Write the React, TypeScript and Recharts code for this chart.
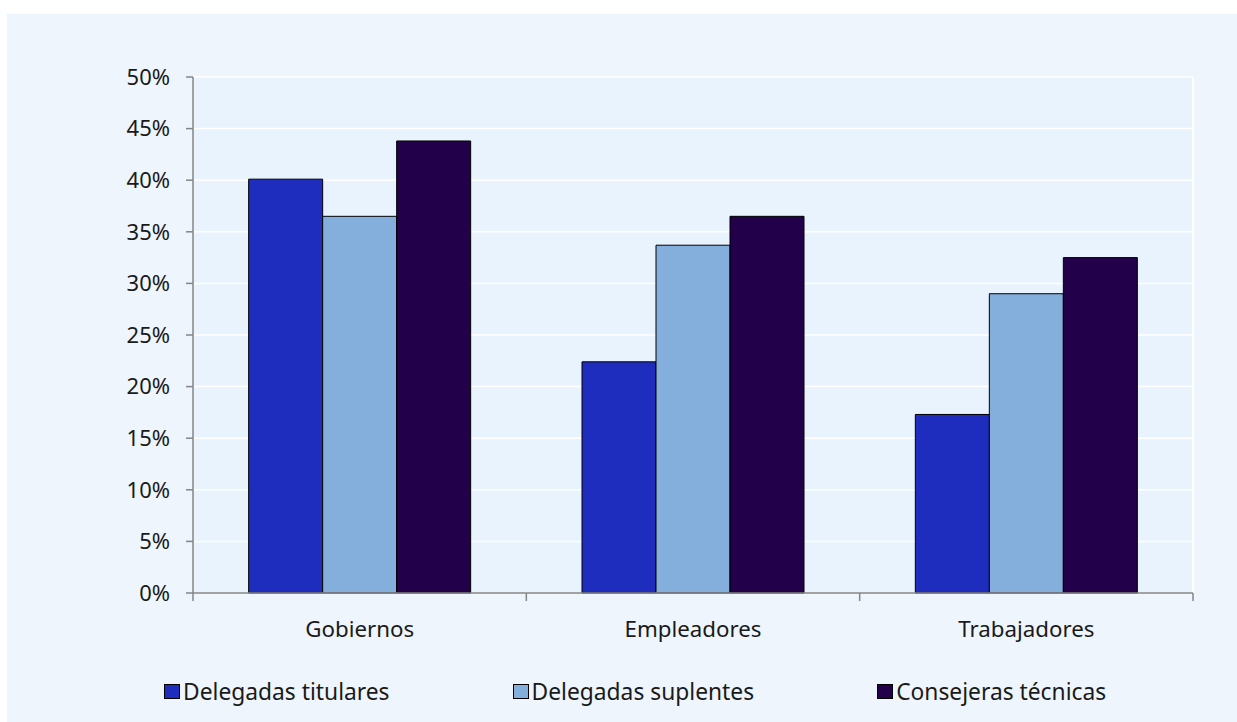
import React from "react";
import {
  BarChart,
  Bar,
  XAxis,
  YAxis,
  CartesianGrid,
  ReferenceLine,
} from "recharts";

// #region Data
const categories = ["Gobiernos", "Empleadores", "Trabajadores"];
const titulares = [40.1, 22.4, 17.3];
const suplentes = [36.5, 33.7, 29.0];
const tecnicas = [43.8, 36.5, 32.5];
const yTicks = [0, 5, 10, 15, 20, 25, 30, 35, 40, 45, 50];
const edgeTicks = [0, 1, 2, 3];

const series = [
  { key: "titulares", name: "Delegadas titulares", color: "#1F2DBE" },
  { key: "suplentes", name: "Delegadas suplentes", color: "#84AFDC" },
  { key: "tecnicas", name: "Consejeras técnicas", color: "#22004A" },
];

const data = categories.map((name, i) => ({
  name,
  edge: i,
  titulares: titulares[i],
  suplentes: suplentes[i],
  tecnicas: tecnicas[i],
}));
// #endregion

const font = "'Noto Sans', sans-serif";
const axisGray = "#858585";

// "a" = boundary ticks axis, "b" = category labels axis
export default function App() {
  return (
    <div
      style={{
        position: "absolute",
        left: 7,
        top: 14,
        width: 1230,
        height: 708,
        background: "#EEF5FC",
        fontFamily: font,
      }}
    >
      <BarChart
        width={1230}
        height={708}
        data={data}
        margin={{ top: 63, right: 44, bottom: 69, left: 106 }}
        barCategoryGap="16.7%"
        barGap={0}
      >
        <CartesianGrid
          xAxisId="b"
          vertical={false}
          fill="#E9F3FD"
          stroke="#FFFFFF"
          strokeWidth={1.5}
        />
        <XAxis
          xAxisId="a"
          dataKey="edge"
          type="number"
          domain={[0, 3]}
          ticks={edgeTicks}
          interval={0}
          tick={() => <g />}
          tickLine={{ stroke: axisGray, strokeWidth: 1.5 }}
          tickSize={8}
          height={1}
          stroke={axisGray}
          strokeWidth={1.5}
          allowDataOverflow
        />
        <XAxis
          xAxisId="b"
          dataKey="name"
          axisLine={false}
          tickLine={false}
          tickSize={0}
          tickMargin={27}
          height={59}
          tick={{ fill: "#1A1A1A", fontSize: 22.3, fontFamily: font }}
        />
        <YAxis
          domain={[0, 50]}
          ticks={yTicks}
          width={80}
          tickSize={7}
          tickMargin={16}
          stroke={axisGray}
          strokeWidth={1.5}
          tickFormatter={(v) => `${v}%`}
          tick={{ fill: "#1A1A1A", fontSize: 22, fontFamily: font }}
        />
        <ReferenceLine xAxisId="a" x={3} stroke="#FFFFFF" strokeWidth={2} />
        {series.map((s) => (
          <Bar
            key={s.key}
            xAxisId="b"
            dataKey={s.key}
            name={s.name}
            fill={s.color}
            stroke="#000000"
            strokeWidth={1}
            isAnimationActive={false}
          />
        ))}
      </BarChart>
      <div
        style={{
          position: "absolute",
          left: 157,
          top: 662,
          display: "flex",
          alignItems: "center",
          fontSize: 22.8,
          color: "#1A1A1A",
          whiteSpace: "nowrap",
        }}
      >
        {series.map((s) => (
          <div
            key={s.key}
            style={{ display: "flex", alignItems: "center", marginRight: 123 }}
          >
            <span
              style={{
                display: "inline-block",
                width: 16,
                height: 15,
                boxSizing: "border-box",
                background: s.color,
                border: "1px solid #000",
                marginRight: 3,
              }}
            />
            <span>{s.name}</span>
          </div>
        ))}
      </div>
    </div>
  );
}
